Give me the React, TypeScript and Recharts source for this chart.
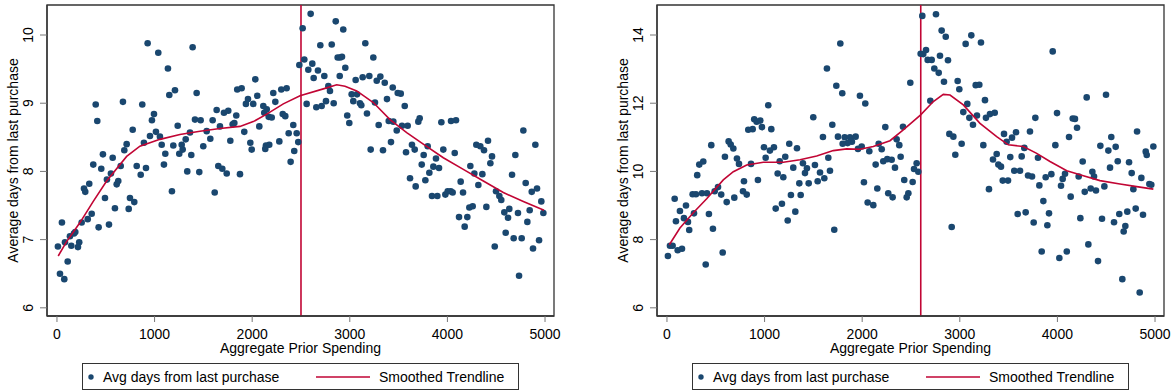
import React from 'react';
import { ScatterChart, Scatter, XAxis, YAxis, ReferenceLine, ReferenceArea } from 'recharts';

const FONT = '"Liberation Sans", Arial, Helvetica, sans-serif';
const NAVY = '#1a476f';
const RED = '#c10534';
const TICK_GREY = '#777';

const spendingTicks = [0, 1000, 2000, 3000, 4000, 5000];
const daysTicksA = [6, 7, 8, 9, 10];
const daysTicksB = [6, 8, 10, 12, 14];
const cutoffA = 2500;
const cutoffB = 2600;

// left panel: aggregate prior spending vs avg days
const spendA = [
  929, 1038, 1390, 1137, 1151, 1209, 1431, 397, 413, 676, 874, 994, 973, 776, 1014, 953, 1055, 891, 1073, 714,
  690, 471, 1110, 1237, 1192, 1278, 1288, 1253, 1319, 1363, 1376, 1414, 1472, 1534, 1499, 1571, 1595, 1636, 1670, 1711,
  1755, 1800, 1817, 1837, 1847, 1892, 1936, 1957, 2011, 2032, 2052, 1919, 1776, 1981, 1995, 2073, 2114, 2124, 2149, 2169,
  2200, 2216, 2237, 2278, 2298, 2313, 2339, 2353, 2374, 2394, 2421, 2431, 2456, 2472, 2483, 2141, 2175, 2134, 372, 454,
  571, 653, 817, 912, 858, 553, 512, 628, 612, 1096, 1335, 1458, 1653, 1694, 1739, 1875, 1178, 1616, 277, 331,
  492, 748, 290, 594, 356, 315, 253, 51, 427, 533, 188, 174, 133, 82, 147, 228, 215, 10, 110, 31,
  75, 792, 735, 2599, 2517, 2856, 2933, 2698, 2815, 3159, 2876, 2900, 2920, 3241, 2534, 2616, 2575, 2674, 2630, 2739,
  2954, 2897, 3060, 3132, 3200, 3276, 3313, 3358, 2780, 2797, 3440, 3491, 3522, 3019, 3074, 3036, 3104, 3118, 3258, 3381,
  3563, 2558, 2657, 2712, 2756, 2835, 2974, 2995, 3176, 3296, 3399, 3446, 3481, 3535, 3593, 3702, 3716, 3938, 4037, 4088,
  3422, 3214, 3340, 3637, 3665, 3576, 3798, 3757, 3958, 4075, 3883, 3737, 3856, 3914, 3815, 3774, 3617, 3675, 4136, 4235,
  4276, 4358, 4317, 4296, 4337, 4375, 4416, 4457, 4440, 4498, 4532, 4778, 4901, 4696, 4662, 4802, 4918, 4864, 3842, 3897,
  3979, 4003, 4034, 4054, 4160, 4119, 4204, 4177, 4225, 4259, 4399, 4552, 4583, 4634, 4621, 4723, 4597, 4679, 4761, 4485,
  4734, 4843, 4819, 4962, 4983, 4939, 4877,
];
const daysA = [
  9.88, 9.74, 9.82, 9.51, 9.12, 9.19, 9.15, 8.98, 8.74, 9.02, 8.98, 8.84, 8.75, 8.61, 8.58, 8.52, 8.51, 8.42, 8.39, 8.4,
  8.31, 8.25, 8.26, 8.67, 8.38, 8.39, 8.32, 8.26, 8.47, 8.57, 8.24, 8.76, 8.75, 8.59, 8.37, 8.48, 8.75, 8.9, 8.66, 8.86,
  8.89, 8.69, 8.71, 8.82, 9.2, 9.22, 8.99, 9.06, 8.99, 9.35, 9.11, 8.58, 8.45, 8.42, 8.32, 8.66, 8.96, 8.86, 8.91, 8.8,
  8.79, 9.15, 9.02, 8.44, 9.2, 8.84, 8.81, 9.22, 8.56, 8.14, 8.68, 8.3, 8.56, 8.43, 9.56, 8.38, 8.39, 8.33, 8.1, 8.04,
  8.2, 8.08, 8.08, 8.05, 7.95, 7.97, 7.88, 7.86, 7.81, 8.1, 8.0, 7.99, 8.08, 8.04, 7.97, 7.96, 7.71, 7.69, 7.75, 7.82,
  7.61, 7.61, 7.7, 7.46, 7.38, 7.3, 7.25, 7.25, 7.18, 7.22, 7.11, 7.09, 7.05, 6.96, 6.91, 6.96, 6.89, 6.9, 6.68, 6.5,
  6.42, 7.55, 7.45, 10.31, 10.1, 10.2, 10.08, 9.85, 9.86, 9.88, 9.67, 9.67, 9.68, 9.67, 9.64, 9.58, 9.49, 9.48, 9.37, 9.4,
  9.52, 9.4, 9.34, 9.38, 9.4, 9.33, 9.39, 9.3, 9.25, 9.18, 9.23, 9.15, 9.14, 9.13, 9.13, 9.03, 9.0, 8.97, 9.01, 9.06,
  8.96, 8.99, 8.94, 8.96, 9.03, 9.0, 8.82, 8.71, 8.85, 8.68, 8.74, 8.73, 8.6, 8.67, 8.67, 8.73, 8.78, 8.72, 8.74, 8.75,
  8.43, 8.32, 8.31, 8.39, 8.32, 8.28, 8.37, 8.24, 8.32, 8.27, 8.19, 8.1, 8.07, 8.05, 7.98, 7.87, 7.9, 7.78, 7.85, 8.08,
  7.97, 7.96, 7.8, 8.39, 8.37, 8.31, 8.45, 8.22, 8.12, 7.71, 7.64, 8.6, 8.39, 8.24, 7.95, 7.83, 7.75, 7.7, 7.64, 7.64,
  7.66, 7.71, 7.71, 7.69, 7.69, 7.33, 7.33, 7.19, 7.47, 7.49, 7.48, 7.58, 7.4, 7.45, 7.32, 7.39, 7.1, 7.02, 7.02, 6.9,
  6.47, 7.43, 7.26, 7.56, 7.39, 6.99, 6.87,
];
const trendSpendA = [13, 99, 236, 372, 509, 714, 850, 1055, 1260, 1465, 1670, 1875, 2011, 2149, 2319, 2490, 2729, 2866, 2951, 3071, 3241, 3412, 3583, 3753, 3958, 4163, 4368, 4573, 4778, 4990];
const trendDaysA = [6.76, 6.97, 7.25, 7.56, 7.86, 8.22, 8.37, 8.47, 8.54, 8.59, 8.63, 8.66, 8.73, 8.84, 8.99, 9.11, 9.21, 9.27, 9.25, 9.18, 9.01, 8.76, 8.57, 8.4, 8.2, 8.03, 7.86, 7.69, 7.56, 7.43];

// right panel
const spendB = [
  1776, 1639, 1735, 1796, 1977, 2032, 1038, 1499, 1694, 2237, 894, 919, 956, 973, 833, 878, 1069, 1598, 1752, 1821,
  1875, 1933, 1851, 1895, 454, 632, 653, 680, 594, 717, 738, 994, 1096, 1055, 1253, 1332, 1011, 1212, 1155, 372,
  331, 310, 861, 789, 932, 1134, 1192, 1294, 1393, 1434, 1414, 1516, 1568, 1670, 1653, 1612, 1544, 1452, 1356, 1800,
  1995, 1957, 2073, 2169, 2200, 2216, 2138, 2257, 2018, 2155, 2267, 79, 263, 297, 359, 410, 489, 523, 556, 690,
  779, 817, 1270, 1370, 10, 31, 58, 92, 110, 154, 133, 174, 195, 215, 228, 277, 430, 397, 471, 571,
  612, 1114, 1178, 1237, 1315, 1714, 2056, 2114, 2616, 2756, 2814, 2856, 3118, 3060, 3217, 2654, 2599, 2626, 2671, 2712,
  2797, 2879, 2739, 2784, 2838, 2493, 2978, 2995, 3163, 3200, 3258, 2698, 3077, 3036, 3098, 3135, 3176, 3268, 3309, 3358,
  3952, 4300, 4498, 3996, 3774, 4157, 4180, 4201, 2893, 2934, 3019, 2954, 3241, 3453, 3576, 3535, 3480, 3719, 3661, 4119,
  3979, 4552, 4440, 4597, 4522, 4816, 4983, 4905, 4915, 3378, 3340, 3395, 3422, 3517, 3634, 3801, 3558, 3617, 3440, 3494,
  3699, 3740, 3880, 3938, 3815, 4259, 4539, 4618, 4734, 4761, 4860, 4054, 4078, 4037, 4218, 4358, 4375, 4481, 4280, 4341,
  4395, 4778, 4942, 4962, 4136, 3299, 2418, 2353, 2380, 2394, 2336, 2302, 2558, 2531, 2575, 2431, 2517, 2312, 2473, 2456,
  2917, 3856, 3593, 3675, 3757, 3914, 3897, 3839, 4020, 4096, 4235, 4317, 4416, 4457, 4580, 4634, 4716, 4696, 4679, 4802,
  4877, 4665, 4843,
];
const daysB = [
  13.75, 13.02, 12.51, 12.29, 12.22, 11.99, 11.94, 11.59, 11.37, 11.3, 11.53, 11.46, 11.49, 11.3, 11.22, 11.24, 11.24, 11.01, 11.02, 11.0,
  11.0, 11.02, 10.83, 10.87, 10.77, 10.88, 10.79, 10.67, 10.43, 10.38, 10.22, 10.71, 10.71, 10.61, 10.81, 10.68, 10.4, 10.43, 10.3, 10.29,
  10.2, 9.89, 10.22, 9.71, 9.75, 9.94, 9.83, 10.11, 10.24, 10.09, 9.95, 10.19, 9.97, 10.02, 10.4, 9.8, 9.71, 9.65, 9.65, 10.81,
  10.73, 10.66, 10.59, 10.81, 10.65, 10.3, 10.2, 10.36, 9.68, 9.5, 9.36, 9.2, 9.33, 9.33, 9.36, 9.36, 9.42, 9.54, 9.32, 9.23,
  9.42, 9.32, 9.31, 9.31, 7.52, 7.82, 7.82, 8.54, 7.69, 7.73, 8.84, 8.63, 9.0, 8.52, 8.28, 8.77, 8.75, 7.27, 8.32, 7.62,
  9.1, 8.91, 9.05, 8.56, 8.82, 8.29, 9.09, 9.01, 14.56, 14.61, 14.13, 13.95, 13.99, 13.74, 13.78, 13.56, 13.45, 13.44, 13.27, 13.27,
  13.39, 13.26, 13.02, 12.89, 12.63, 12.6, 12.65, 12.41, 12.53, 12.54, 12.09, 12.07, 11.98, 11.74, 11.57, 11.37, 11.64, 11.57, 11.68, 11.72,
  13.52, 12.17, 12.25, 11.71, 11.57, 11.55, 11.54, 11.28, 11.1, 11.02, 10.81, 10.49, 10.77, 11.1, 11.15, 10.99, 10.87, 11.17, 10.69, 11.01,
  10.77, 11.01, 10.75, 10.72, 10.61, 11.17, 10.73, 10.58, 10.48, 10.51, 10.35, 10.2, 10.14, 10.42, 10.44, 10.4, 10.02, 10.02, 9.73, 9.73,
  9.88, 9.85, 9.83, 9.92, 9.59, 10.29, 10.11, 10.3, 10.27, 9.95, 9.81, 9.78, 9.93, 9.58, 9.85, 9.99, 9.85, 9.56, 9.4, 9.5,
  9.44, 9.48, 9.63, 9.61, 9.26, 9.48, 11.31, 10.94, 10.77, 10.43, 10.11, 10.34, 10.24, 10.07, 9.99, 9.75, 9.69, 9.24, 9.36, 9.24,
  8.37, 9.13, 8.75, 8.8, 8.5, 8.77, 8.42, 7.65, 7.46, 7.65, 8.63, 7.86, 7.37, 8.61, 8.51, 8.75, 8.82, 8.4, 8.24, 8.91,
  8.73, 6.84, 6.45,
];
const trendSpendB = [24, 133, 270, 407, 577, 680, 817, 987, 1192, 1363, 1534, 1704, 1841, 1977, 2114, 2285, 2421, 2599, 2729, 2831, 2900, 3036, 3207, 3378, 3497, 3651, 3788, 3924, 4096, 4266, 4436, 4641, 4846, 4983];
const trendDaysB = [7.85, 8.34, 8.79, 9.2, 9.75, 9.99, 10.19, 10.27, 10.27, 10.34, 10.45, 10.61, 10.66, 10.65, 10.73, 10.9, 11.22, 11.66, 12.05, 12.26, 12.24, 11.95, 11.41, 11.02, 10.78, 10.73, 10.53, 10.29, 10.02, 9.87, 9.73, 9.63, 9.54, 9.48];

const zip = (xs: number[], ys: number[]) => xs.map((x, i) => ({ x, y: ys[i] }));

const Dot = (props: any) => <circle cx={props.cx} cy={props.cy} r={3.3} fill={NAVY} />;
const NoDot = () => <g />;

const YTick = ({ x, y, payload }: any) => {
  const tx = x - 5;
  return (
    <text x={tx} y={y} transform={`rotate(-90, ${tx}, ${y})`} textAnchor="middle" fontSize={14} fontFamily={FONT} fill="#000">
      {payload.value}
    </text>
  );
};

const YTitle = ({ viewBox }: any) => {
  const cx = viewBox.x + 13;
  const cy = viewBox.y + viewBox.height / 2;
  return (
    <text x={cx} y={cy} transform={`rotate(-90, ${cx}, ${cy})`} textAnchor="middle" dominantBaseline="central" fontSize={14} fontFamily={FONT} fill="#000">
      Average days from last purchase
    </text>
  );
};

const XTitle = ({ viewBox }: any) => {
  const cx = viewBox.x + viewBox.width / 2;
  const cy = viewBox.y + 32;
  return (
    <text x={cx} y={cy} textAnchor="middle" dominantBaseline="central" fontSize={14} fontFamily={FONT} fill="#000">
      Aggregate Prior Spending
    </text>
  );
};

const xDomain: [number, number] = [-102, 5092];

function Panel({ points, trend, cutoff, yDomain, yTicks, width, rightMargin }: any) {
  return (
    <ScatterChart width={width} height={392} margin={{ top: 5, right: rightMargin, left: 0, bottom: 0 }}>
      <XAxis
        type="number"
        dataKey="x"
        domain={xDomain}
        ticks={spendingTicks}
        allowDataOverflow
        height={76}
        tickSize={6}
        tickMargin={7}
        axisLine={{ stroke: '#333', strokeWidth: 1.3 }}
        tickLine={{ stroke: TICK_GREY }}
        tick={{ fontSize: 14, fill: '#000', fontFamily: FONT }}
        label={<XTitle />}
      />
      <YAxis
        type="number"
        dataKey="y"
        domain={yDomain}
        ticks={yTicks}
        allowDataOverflow
        width={47}
        tickSize={7}
        axisLine={{ stroke: '#333', strokeWidth: 1.3 }}
        tickLine={{ stroke: TICK_GREY }}
        tick={<YTick />}
        label={<YTitle />}
      />
      <ReferenceArea x1={xDomain[0]} x2={xDomain[1]} y1={yDomain[0]} y2={yDomain[1]} fill="none" stroke="#333" strokeWidth={1.3} />
      <ReferenceLine x={cutoff} stroke={RED} strokeWidth={1.6} />
      <Scatter data={points} shape={<Dot />} isAnimationActive={false} />
      <Scatter data={trend} line={{ stroke: RED, strokeWidth: 1.6 }} shape={<NoDot />} isAnimationActive={false} />
    </ScatterChart>
  );
}

function LegendBox({ left }: { left: number }) {
  return (
    <div
      style={{
        position: 'absolute', left, top: 363, width: 437, height: 27, boxSizing: 'border-box',
        border: '1px solid #333', fontFamily: FONT, fontSize: 14, color: '#000',
      }}
    >
      <svg width={437} height={25} style={{ position: 'absolute', left: 0, top: 0 }}>
        <circle cx={8} cy={13} r={2.7} fill={NAVY} />
        <line x1={233} x2={287} y1={13} y2={13} stroke={RED} strokeWidth={1.6} />
      </svg>
      <span style={{ position: 'absolute', left: 20, top: 5, whiteSpace: 'nowrap' }}>Avg days from last purchase</span>
      <span style={{ position: 'absolute', left: 296, top: 5, whiteSpace: 'nowrap' }}>Smoothed Trendline</span>
    </div>
  );
}

export default function App() {
  const ptsA = zip(spendA, daysA);
  const trA = zip(trendSpendA, trendDaysA);
  const ptsB = zip(spendB, daysB);
  const trB = zip(trendSpendB, trendDaysB);
  return (
    <div style={{ position: 'absolute', left: 0, top: 0, width: 1175, height: 392, background: '#fff', overflow: 'hidden' }}>
      <div style={{ position: 'absolute', left: 0, top: 0 }}>
        <Panel points={ptsA} trend={trA} cutoff={cutoffA} yDomain={[5.88, 10.44]} yTicks={daysTicksA} width={580} rightMargin={26} />
      </div>
      <div style={{ position: 'absolute', left: 610, top: 0 }}>
        <Panel points={ptsB} trend={trB} cutoff={cutoffB} yDomain={[5.76, 14.88]} yTicks={daysTicksB} width={565} rightMargin={11} />
      </div>
      <LegendBox left={82} />
      <LegendBox left={692} />
    </div>
  );
}
